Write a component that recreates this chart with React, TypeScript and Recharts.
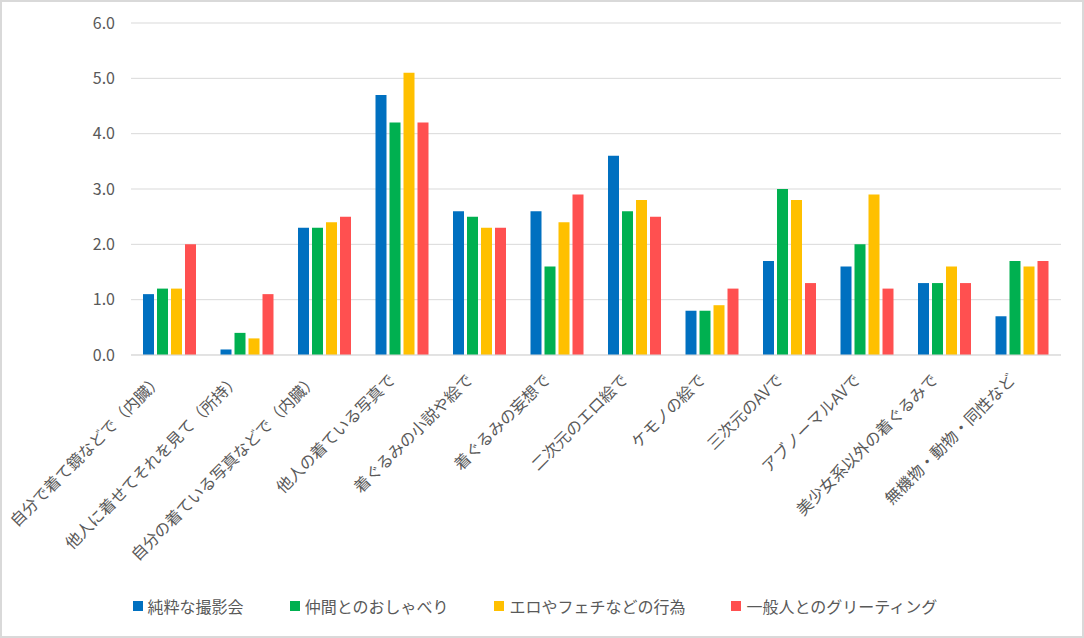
import React from "react";
import { BarChart, Bar, XAxis, YAxis, CartesianGrid, Legend } from "recharts";

const categories = [
  "自分で着て鏡などで（内臓）",
  "他人に着せてそれを見て（所持）",
  "自分の着ている写真などで（内臓）",
  "他人の着ている写真で",
  "着ぐるみの小説や絵で",
  "着ぐるみの妄想で",
  "二次元のエロ絵で",
  "ケモノの絵で",
  "三次元のAVで",
  "アブノーマルAVで",
  "美少女系以外の着ぐるみで",
  "無機物・動物・同性など",
];

const seriesNames = [
  "純粋な撮影会",
  "仲間とのおしゃべり",
  "エロやフェチなどの行為",
  "一般人とのグリーティング",
];

const seriesColors = ["#0070C0", "#00B050", "#FFC000", "#FF5050"];

const photoSession = [1.1, 0.1, 2.3, 4.7, 2.6, 2.6, 3.6, 0.8, 1.7, 1.6, 1.3, 0.7];
const chatting = [1.2, 0.4, 2.3, 4.2, 2.5, 1.6, 2.6, 0.8, 3.0, 2.0, 1.3, 1.7];
const fetish = [1.2, 0.3, 2.4, 5.1, 2.3, 2.4, 2.8, 0.9, 2.8, 2.9, 1.6, 1.6];
const greeting = [2.0, 1.1, 2.5, 4.2, 2.3, 2.9, 2.5, 1.2, 1.3, 1.2, 1.3, 1.7];

const yTicks = [0, 1, 2, 3, 4, 5, 6];

const seriesValues = [photoSession, chatting, fetish, greeting];

const data = categories.map((name, i) => {
  const row: Record<string, string | number> = { name };
  seriesNames.forEach((s, j) => {
    row[s] = seriesValues[j][i];
  });
  return row;
});

const FONT = '"Noto Sans CJK JP", "Noto Sans", sans-serif';
const TEXT = "#595959";

const CategoryTick = (props: any) => {
  const { x, y, payload } = props;
  return (
    <g transform={`translate(${x - 6},${y + 18})`}>
      <text
        transform="rotate(-45)"
        textAnchor="end"
        fill={TEXT}
        fontSize={16}
        fontFamily={FONT}
      >
        {payload.value}
      </text>
    </g>
  );
};

const LegendContent = () => (
  <div
    style={{
      display: "flex",
      justifyContent: "center",
      gap: 46,
      paddingRight: 14,
      fontFamily: FONT,
      fontSize: 16,
      color: TEXT,
    }}
  >
    {seriesNames.map((s, i) => (
      <div key={s} style={{ display: "flex", alignItems: "center" }}>
        <span
          style={{
            width: 10,
            height: 10,
            background: seriesColors[i],
            marginRight: 5,
            display: "inline-block",
          }}
        />
        <span>{s}</span>
      </div>
    ))}
  </div>
);

export default function App() {
  return (
    <div
      style={{
        position: "absolute",
        left: 0,
        top: 0,
        width: 1084,
        height: 638,
        background: "#fff",
        boxShadow: "inset 0 0 0 2px #d9d9d9",
      }}
    >
      <BarChart
        width={1084}
        height={638}
        data={data}
        margin={{ top: 23, right: 23, left: 0, bottom: 0 }}
        barSize={11}
        barGap={3}
      >
        <CartesianGrid vertical={false} stroke="#d9d9d9" />
        <XAxis
          dataKey="name"
          height={283}
          interval={0}
          tickLine={false}
          axisLine={{ stroke: "#d9d9d9" }}
          tick={<CategoryTick />}
        />
        <YAxis
          width={131}
          domain={[0, 6]}
          ticks={yTicks}
          tickFormatter={(v: number) => v.toFixed(1)}
          tickLine={false}
          axisLine={false}
          tickMargin={10}
          tick={{ fill: TEXT, fontSize: 16, fontFamily: FONT }}
        />
        <Legend
          verticalAlign="middle"
          align="center"
          layout="horizontal"
          wrapperStyle={{ top: 594, left: 0, width: 1084 }}
          content={<LegendContent />}
        />
        {seriesNames.map((s, i) => (
          <Bar
            key={s}
            dataKey={s}
            fill={seriesColors[i]}
            isAnimationActive={false}
          />
        ))}
      </BarChart>
    </div>
  );
}
